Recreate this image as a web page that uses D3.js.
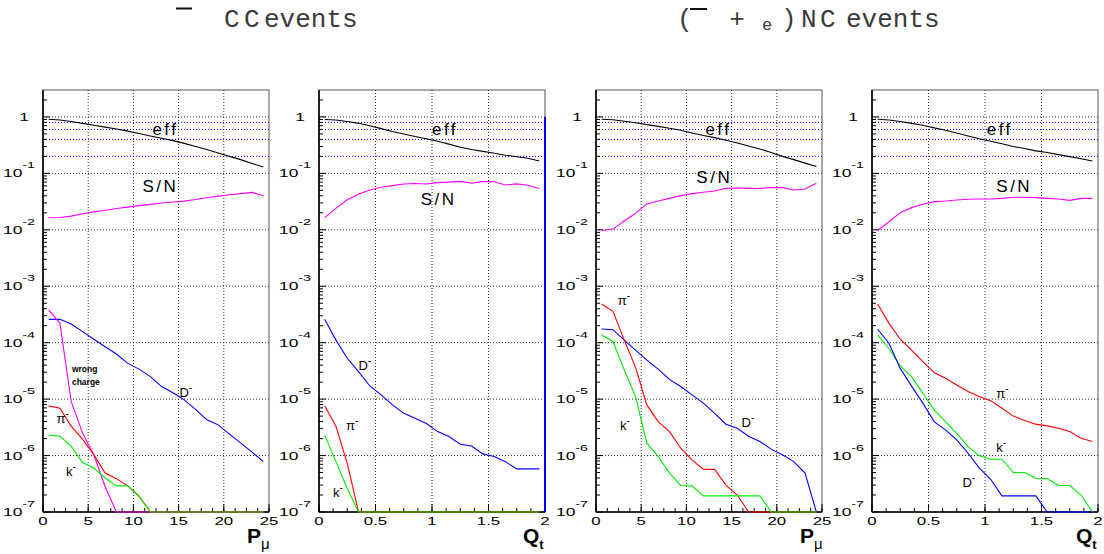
<!DOCTYPE html>
<html>
<head>
<meta charset="utf-8">
<script src="https://cdn.jsdelivr.net/npm/d3@7"></script>
<style>
  body { margin: 0; background: #fff; }
  svg { font-family: "Liberation Sans", Arial, sans-serif; }
</style>
</head>
<body>
<div id="chart"></div>
<script>
// DATA
// bin centres
var ptBins = [0.625, 1.875, 3.125, 4.375, 5.625, 6.875, 8.125, 9.375, 10.625, 11.875,
              13.125, 14.375, 15.625, 16.875, 18.125, 19.375, 20.625, 21.875, 23.125, 24.375];
var qtBins = [0.05, 0.15, 0.25, 0.35, 0.45, 0.55, 0.65, 0.75, 0.85, 0.95,
              1.05, 1.15, 1.25, 1.35, 1.45, 1.55, 1.65, 1.75, 1.85, 1.95];

// CC events, P_mu
var ccPtEff = [0.91, 0.88, 0.83, 0.77, 0.71, 0.66, 0.61, 0.56, 0.51, 0.46, 0.42, 0.38, 0.34, 0.30, 0.265, 0.23, 0.20, 0.175, 0.15, 0.13];
var ccPtSN = [0.0164, 0.0165, 0.0175, 0.0192, 0.0208, 0.0222, 0.0238, 0.0252, 0.0268, 0.0282, 0.0298, 0.031, 0.0322, 0.0345, 0.037, 0.0395, 0.0418, 0.0438, 0.046, 0.040];
var ccPtD = [2.59e-4, 2.59e-4, 2.14e-4, 1.57e-4, 1.15e-4, 8.5e-5, 6.3e-5, 4.3e-5, 3.4e-5, 2.5e-5, 1.67e-5, 1.3e-5, 9.7e-6, 6.6e-6, 4.3e-6, 3.5e-6, 2.4e-6, 1.66e-6, 1.15e-6, 7.8e-7];
var ccPtWrong = [3.8e-4, 2.2e-4, 9.0e-6, 2.5e-6, 1.03e-6, 2.8e-7, 0, 0, 0, 0, 0, 0, 0, 0, 0, 0, 0, 0, 0, 0];
var ccPtPi = [7.6e-6, 6.9e-6, 3.3e-6, 1.95e-6, 1.03e-6, 4.9e-7, 3.9e-7, 2.9e-7, 1.9e-7, 0, 0, 0, 0, 0, 0, 0, 0, 0, 0, 0];
var ccPtK = [2.3e-6, 2.2e-6, 1.45e-6, 7.5e-7, 6.0e-7, 4.0e-7, 2.9e-7, 2.9e-7, 1.93e-7, 0, 0, 0, 0, 0, 0, 0, 0, 0, 0, 0];

// CC events, Q_t
var ccQtEff = [0.90, 0.88, 0.83, 0.77, 0.70, 0.62, 0.55, 0.50, 0.45, 0.41, 0.37, 0.33, 0.29, 0.265, 0.245, 0.227, 0.21, 0.197, 0.185, 0.166];
var ccQtSN = [0.0164, 0.024, 0.034, 0.0426, 0.0508, 0.0566, 0.0606, 0.065, 0.066, 0.065, 0.0685, 0.070, 0.072, 0.067, 0.072, 0.071, 0.0623, 0.065, 0.0615, 0.054];
var ccQtD = [2.59e-4, 1.11e-4, 5.3e-5, 3.07e-5, 1.71e-5, 1.19e-5, 7.9e-6, 5.6e-6, 4.6e-6, 3.7e-6, 2.66e-6, 2.17e-6, 1.59e-6, 1.48e-6, 1.07e-6, 9.6e-7, 7.8e-7, 5.8e-7, 5.8e-7, 5.8e-7];
var ccQtPi = [7.6e-6, 3.3e-6, 7.3e-7, 0, 0, 0, 0, 0, 0, 0, 0, 0, 0, 0, 0, 0, 0, 0, 0, 0];
var ccQtK = [2.3e-6, 7.8e-7, 2.6e-7, 0, 0, 0, 0, 0, 0, 0, 0, 0, 0, 0, 0, 0, 0, 0, 0, 0];
var ccQtEdgeX = [2, 2];
var ccQtEdgeY = [1, 0];

// NC events, P_mu
var ncPtEff = [0.91, 0.89, 0.84, 0.79, 0.73, 0.68, 0.63, 0.58, 0.52, 0.47, 0.43, 0.385, 0.345, 0.305, 0.27, 0.235, 0.20, 0.175, 0.152, 0.132];
var ncPtSN = [0.0097, 0.0103, 0.0143, 0.0196, 0.0288, 0.0324, 0.036, 0.0403, 0.0438, 0.0462, 0.0488, 0.0543, 0.055, 0.0543, 0.054, 0.0559, 0.0559, 0.0508, 0.053, 0.0667];
var ncPtD = [1.75e-4, 1.7e-4, 1.11e-4, 7.4e-5, 4.9e-5, 3.4e-5, 2.24e-5, 1.67e-5, 1.19e-5, 8.5e-6, 5.6e-6, 3.6e-6, 3.05e-6, 2.2e-6, 1.78e-6, 1.3e-6, 1.03e-6, 7.8e-7, 4.9e-7, 0];
var ncPtPi = [4.84e-4, 3.6e-4, 1.11e-4, 3.66e-5, 7.9e-6, 4.0e-6, 2.66e-6, 1.35e-6, 8.4e-7, 5.7e-7, 5.7e-7, 3.0e-7, 2.0e-7, 0, 0, 0, 0, 0, 0, 0];
var ncPtK = [1.37e-4, 1.05e-4, 3.3e-5, 1.11e-5, 1.66e-6, 9.6e-7, 4.9e-7, 2.95e-7, 2.9e-7, 1.93e-7, 1.93e-7, 1.93e-7, 1.93e-7, 1.93e-7, 1.93e-7, 0, 0, 0, 0, 0];

// NC events, Q_t
var ncQtEff = [0.91, 0.88, 0.83, 0.77, 0.71, 0.64, 0.58, 0.52, 0.46, 0.41, 0.37, 0.335, 0.30, 0.275, 0.25, 0.235, 0.215, 0.198, 0.182, 0.166];
var ncQtSN = [0.0097, 0.0139, 0.0201, 0.0247, 0.0283, 0.0316, 0.0324, 0.0338, 0.0348, 0.0352, 0.0352, 0.0361, 0.0377, 0.0377, 0.0372, 0.0361, 0.0352, 0.0333, 0.0361, 0.0361];
var ncQtD = [1.73e-4, 9.8e-5, 3.5e-5, 1.7e-5, 8.5e-6, 4.0e-6, 2.85e-6, 1.9e-6, 1.1e-6, 6.0e-7, 3.8e-7, 1.93e-7, 1.93e-7, 1.93e-7, 1.93e-7, 0, 0, 0, 0, 0];
var ncQtPi = [4.84e-4, 2.2e-4, 1.15e-4, 7.4e-5, 4.6e-5, 2.95e-5, 2.34e-5, 1.78e-5, 1.36e-5, 1.11e-5, 9.4e-6, 6.9e-6, 5.0e-6, 4.17e-6, 3.6e-6, 3.36e-6, 3.05e-6, 2.66e-6, 2.03e-6, 1.78e-6];
var ncQtK = [1.37e-4, 7.9e-5, 3.87e-5, 2.5e-5, 1.27e-5, 6.45e-6, 4.0e-6, 2.48e-6, 1.44e-6, 9.9e-7, 8.6e-7, 8.6e-7, 5.0e-7, 5.0e-7, 3.97e-7, 3.9e-7, 2.95e-7, 2.95e-7, 2.0e-7, 0];

// axes
var yDecades = [1, 1e-1, 1e-2, 1e-3, 1e-4, 1e-5, 1e-6, 1e-7];
var yExponents = ["", "-1", "-2", "-3", "-4", "-5", "-6", "-7"];
var effLevels = [0.8, 0.6, 0.4, 0.2];
var ptTicks = [0, 5, 10, 15, 20, 25];
var ptTickLabels = ["0", "5", "10", "15", "20", "25"];
var qtTicks = [0, 0.5, 1, 1.5, 2];
var qtTickLabels = ["0", "0.5", "1", "1.5", "2"];

(function(){

	// colours
	var black = "#000000"
	, magenta = "#ff00ff"
	, blue = "#0000ff"
	, red = "#ff0000"
	, green = "#00ee00"
	, mono = "'Liberation Mono', 'Courier New', monospace"

	, W = 1104, H = 554
	, plotTop = 90, plotBottom = 512
	, panelW = 226
	, yMin = 1e-7, yMax = 3.0

	, panels
	, svg
	, title;

	panels = [
		{ left: 43, xMax: 25, bins: ptBins, ticks: ptTicks, tickLabels: ptTickLabels, minorStep: 1.25,
		  axisMain: "P", axisSub: "\u03bc",
		  series: [
			{ v: ccPtEff, c: black }, { v: ccPtSN, c: magenta }, { v: ccPtD, c: blue },
			{ v: ccPtWrong, c: magenta }, { v: ccPtPi, c: red }, { v: ccPtK, c: green }
		  ],
		  labels: [
			{ t: "eff", x: 12.1, y: 0.48, k: "big" }, { t: "S/N", x: 11.0, y: 0.047, k: "big" },
			{ t: "wrong", x: 3.2, y: 3.0e-5, k: "small" }, { t: "charge", x: 3.2, y: 1.75e-5, k: "small" },
			{ t: "D", x: 15.1, y: 1.08e-5, k: "part" }, { t: "\u03c0", x: 1.5, y: 3.75e-6, k: "part" },
			{ t: "k", x: 2.55, y: 4.3e-7, k: "part" }
		  ] },
		{ left: 319, xMax: 2, bins: qtBins, ticks: qtTicks, tickLabels: qtTickLabels, minorStep: 0.125,
		  axisMain: "Q", axisSub: "t",
		  series: [
			{ v: ccQtEff, c: black }, { v: ccQtSN, c: magenta }, { v: ccQtD, c: blue },
			{ v: ccQtPi, c: red }, { v: ccQtK, c: green }
		  ],
		  edge: { x: ccQtEdgeX, y: ccQtEdgeY, c: blue },
		  labels: [
			{ t: "eff", x: 1.0, y: 0.48, k: "big" }, { t: "S/N", x: 0.9, y: 0.0275, k: "big" },
			{ t: "D", x: 0.35, y: 3.27e-5, k: "part" }, { t: "\u03c0", x: 0.24, y: 2.8e-6, k: "part" },
			{ t: "k", x: 0.124, y: 1.83e-7, k: "part" }
		  ] },
		{ left: 596, xMax: 25, bins: ptBins, ticks: ptTicks, tickLabels: ptTickLabels, minorStep: 1.25,
		  axisMain: "P", axisSub: "\u03bc",
		  series: [
			{ v: ncPtEff, c: black }, { v: ncPtSN, c: magenta }, { v: ncPtD, c: blue },
			{ v: ncPtPi, c: red }, { v: ncPtK, c: green }
		  ],
		  labels: [
			{ t: "eff", x: 12.1, y: 0.48, k: "big" }, { t: "S/N", x: 11.1, y: 0.0676, k: "big" },
			{ t: "\u03c0", x: 2.4, y: 4.6e-4, k: "part" }, { t: "k", x: 2.65, y: 2.8e-6, k: "part" },
			{ t: "D", x: 16.1, y: 3.2e-6, k: "part" }
		  ] },
		{ left: 872, xMax: 2, bins: qtBins, ticks: qtTicks, tickLabels: qtTickLabels, minorStep: 0.125,
		  axisMain: "Q", axisSub: "t",
		  series: [
			{ v: ncQtEff, c: black }, { v: ncQtSN, c: magenta }, { v: ncQtPi, c: red },
			{ v: ncQtK, c: green }, { v: ncQtD, c: blue }
		  ],
		  labels: [
			{ t: "eff", x: 1.015, y: 0.48, k: "big" }, { t: "S/N", x: 1.1, y: 0.047, k: "big" },
			{ t: "\u03c0", x: 1.1, y: 1.04e-5, k: "part" }, { t: "k", x: 1.1, y: 1.15e-6, k: "part" },
			{ t: "D", x: 0.8, y: 2.75e-7, k: "part" }
		  ] }
	];

	svg = d3.select("#chart").append("svg")
		.attr("width", W)
		.attr("height", H);

	// titles (greek glyphs were missing in the original, only the bars remain)
	title = svg.append("g").attr("fill", "#3a3a3a");

	function titleText(tx, ty, str, size, anchor) {
		return title.append("text")
			.attr("x", tx).attr("y", ty)
			.attr("text-anchor", anchor || "start")
			.style("font-family", mono)
			.style("font-size", (size || 26) + "px")
			.text(str);
	}

	title.append("line").attr("x1", 176).attr("x2", 192).attr("y1", 8.5).attr("y2", 8.5)
		.attr("stroke", "#111").attr("stroke-width", 2);
	titleText(224, 27, "C");
	titleText(244, 27, "C");
	titleText(264, 27, "events");

	titleText(677, 27, "(");
	title.append("line").attr("x1", 690).attr("x2", 707).attr("y1", 9).attr("y2", 9)
		.attr("stroke", "#111").attr("stroke-width", 2);
	titleText(737, 27, "+", 26, "middle");
	titleText(767, 30, "e", 17, "middle");
	titleText(781, 27, ")");
	titleText(801, 27, "N");
	titleText(820, 27, "C");
	titleText(846, 27, "events");

	panels.forEach(function(p) {
		var x = d3.scaleLinear().domain([0, p.xMax]).range([p.left, p.left + panelW])
		, y = d3.scaleLog().domain([yMin, yMax]).range([plotBottom, plotTop])
		, g = svg.append("g")
		, right = p.left + panelW
		, line
		, minors = []
		, yMinors = []
		, d, m, v;

		// clamp zero values onto the floor, like the original
		function yc(val) {
			return y(Math.max(val, yMin));
		}

		// frame
		g.append("rect")
			.attr("x", p.left).attr("y", plotTop)
			.attr("width", panelW).attr("height", plotBottom - plotTop)
			.attr("fill", "none").attr("stroke", "#555").attr("stroke-width", 1);

		// grid
		g.selectAll("line.vgrid")
			.data(p.ticks.slice(1, -1))
			.enter().append("line")
			.attr("x1", function(d) { return x(d); })
			.attr("x2", function(d) { return x(d); })
			.attr("y1", plotTop).attr("y2", plotBottom)
			.attr("stroke", "#333").attr("stroke-width", 1)
			.attr("stroke-dasharray", "1,2");

		g.selectAll("line.hgrid")
			.data(yDecades.slice(0, -1))
			.enter().append("line")
			.attr("x1", p.left).attr("x2", right)
			.attr("y1", function(d) { return y(d); })
			.attr("y2", function(d) { return y(d); })
			.attr("stroke", "#333").attr("stroke-width", 1)
			.attr("stroke-dasharray", "1,2");

		g.selectAll("line.eff")
			.data(effLevels)
			.enter().append("line")
			.attr("x1", p.left).attr("x2", right)
			.attr("y1", function(d) { return y(d); })
			.attr("y2", function(d) { return y(d); })
			.attr("stroke", blue).attr("stroke-width", 1)
			.attr("stroke-dasharray", "1,2");

		// y ticks (inside, on the left axis)
		for (d = -7; d <= 0; d++) {
			for (m = 2; m <= 9; m++) {
				v = m * Math.pow(10, d);
				if (v < yMax) { yMinors.push(v); }
			}
		}
		g.selectAll("line.ymin")
			.data(yMinors)
			.enter().append("line")
			.attr("x1", p.left).attr("x2", p.left + 4)
			.attr("y1", function(d) { return y(d); })
			.attr("y2", function(d) { return y(d); })
			.attr("stroke", "#000");
		g.selectAll("line.ymaj")
			.data(yDecades)
			.enter().append("line")
			.attr("x1", p.left).attr("x2", p.left + 7)
			.attr("y1", function(d) { return y(d); })
			.attr("y2", function(d) { return y(d); })
			.attr("stroke", "#000");

		// x ticks (inside, on the bottom axis)
		for (v = 0; v <= p.xMax + 1e-9; v += p.minorStep) { minors.push(v); }
		g.selectAll("line.xmin")
			.data(minors)
			.enter().append("line")
			.attr("x1", function(d) { return x(d); })
			.attr("x2", function(d) { return x(d); })
			.attr("y1", plotBottom).attr("y2", plotBottom - 4)
			.attr("stroke", "#000");
		g.selectAll("line.xmaj")
			.data(p.ticks)
			.enter().append("line")
			.attr("x1", function(d) { return x(d); })
			.attr("x2", function(d) { return x(d); })
			.attr("y1", plotBottom).attr("y2", plotBottom - 8)
			.attr("stroke", "#000");

		// heavier left and bottom axis
		g.append("line").attr("x1", p.left).attr("x2", p.left).attr("y1", plotTop).attr("y2", plotBottom)
			.attr("stroke", "#000").attr("stroke-width", 1.6);
		g.append("line").attr("x1", p.left).attr("x2", right).attr("y1", plotBottom).attr("y2", plotBottom)
			.attr("stroke", "#000").attr("stroke-width", 1.6);

		// curves
		line = d3.line()
			.x(function(d) { return x(d[0]); })
			.y(function(d) { return yc(d[1]); });

		p.series.forEach(function(s) {
			g.append("path")
				.datum(d3.zip(p.bins, s.v))
				.attr("d", line)
				.attr("fill", "none")
				.attr("stroke", s.c)
				.attr("stroke-width", 1.1);
		});

		if (p.edge) {
			g.append("path")
				.datum(d3.zip(p.edge.x, p.edge.y))
				.attr("d", line)
				.attr("fill", "none")
				.attr("stroke", p.edge.c)
				.attr("stroke-width", 2);
		}

		// y tick labels
		yDecades.forEach(function(dv, i) {
			var t;
			if (i === 0) {
				g.append("text")
					.attr("transform", "translate(" + (p.left - 19) + "," + (y(dv) + 4) + ") scale(1.5,1)")
					.attr("text-anchor", "middle")
					.style("font-size", "11.6px")
					.text("1");
				return;
			}
			t = g.append("text")
				.attr("transform", "translate(" + (p.left - 8) + "," + (y(dv) + 4) + ") scale(1.5,1)")
				.attr("text-anchor", "end");
			t.append("tspan").style("font-size", "11.6px").text("10");
			t.append("tspan").attr("dy", -9).style("font-size", "9.5px").text(yExponents[i]);
		});

		// x tick labels
		p.ticks.forEach(function(tv, i) {
			g.append("text")
				.attr("transform", "translate(" + x(tv) + "," + (plotBottom + 13) + ") scale(1.45,1)")
				.attr("text-anchor", "middle")
				.style("font-size", "11.6px")
				.text(p.tickLabels[i]);
		});

		// axis title
		g.append("text")
			.attr("x", right - 22)
			.attr("y", 543)
			.style("font-size", "21px")
			.style("font-weight", "bold")
			.text(p.axisMain)
			.append("tspan")
			.attr("dy", 6)
			.style("font-size", p.axisSub === "t" ? "13px" : "15px")
			.style("font-weight", p.axisSub === "t" ? "bold" : "normal")
			.text(p.axisSub);

		// curve labels
		p.labels.forEach(function(l) {
			var t = g.append("text")
				.attr("x", x(l.x))
				.attr("y", y(l.y));
			if (l.k === "big") {
				t.style("font-size", "17px").style("letter-spacing", "2.5px").text(l.t);
			} else if (l.k === "small") {
				t.style("font-size", "8.5px").style("font-weight", "bold").text(l.t);
			} else {
				t.style("font-size", "13px").text(l.t);
				t.append("tspan").attr("dy", -6).style("font-size", "10px").text("-");
			}
		});
	});

}());
</script>
</body>
</html>
